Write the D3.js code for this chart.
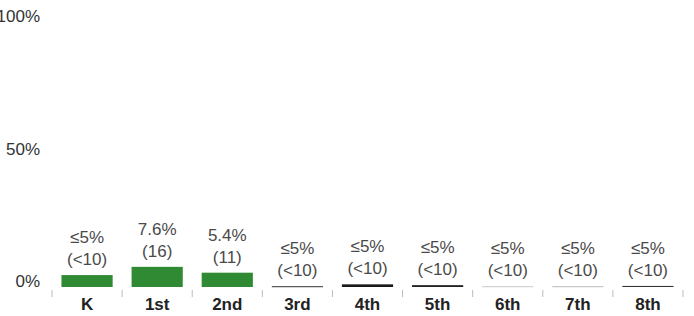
<!DOCTYPE html>
<html><head><meta charset="utf-8">
<script src="https://cdn.jsdelivr.net/npm/d3@7"></script>
<style>body{margin:0;background:#fff}svg{display:block}</style>
</head><body>
<svg id="c" width="694" height="316"></svg>
<script>
const categories = ["K","1st","2nd","3rd","4th","5th","6th","7th","8th"];
const values = [4.5, 7.6, 5.4, 0.3, 1.0, 0.7, 0.3, 0.3, 0.4];
const pctLabels = ["≤5%","7.6%","5.4%","≤5%","≤5%","≤5%","≤5%","≤5%","≤5%"];
const countLabels = ["(<10)","(16)","(11)","(<10)","(<10)","(<10)","(<10)","(<10)","(<10)"];
const barColors = ["#2f8a33","#2f8a33","#2f8a33","#333","#1a1a1a","#222","#c8c8c8","#bbb","#333"];
const yTicks = [0, 50, 100];

const svg = d3.select("#c");
const font = "'Liberation Sans', Arial, sans-serif";
const x = d3.scaleBand().domain(categories).range([52, 683]).paddingInner(0.27).paddingOuter(0.135);
const y = d3.scaleLinear().domain([0, 100]).range([287, 22]);

// y labels
svg.selectAll("text.y").data(yTicks).join("text")
  .attr("x", 40).attr("y", d => y(d))
  .attr("text-anchor", "end").attr("font-family", font).attr("font-size", 17)
  .attr("fill", "#333").text(d => d + "%");

// category boundary ticks
const bounds = categories.map(c => x(c) - x.step()*x.paddingInner()/2).concat([683]);
svg.selectAll("line.t").data(bounds).join("line")
  .attr("x1", d => d).attr("x2", d => d).attr("y1", 290).attr("y2", 297)
  .attr("stroke", "#bbb").attr("stroke-width", 1);

// bars
svg.selectAll("rect.b").data(categories).join("rect")
  .attr("x", d => x(d)).attr("width", x.bandwidth())
  .attr("y", (d,i) => y(values[i])).attr("height", (d,i) => Math.max(1, y(0) - y(values[i])))
  .attr("fill", (d,i) => barColors[i]);

// value labels
const g = svg.selectAll("g.l").data(categories).join("g")
  .attr("transform", (d,i) => `translate(${x(d) + x.bandwidth()/2},${y(values[i])})`);
g.append("text").attr("y", -32).attr("text-anchor", "middle").attr("font-family", font)
  .attr("font-size", 17).attr("fill", "#4a4a4a").text((d,i) => pctLabels[i]);
g.append("text").attr("y", -10).attr("text-anchor", "middle").attr("font-family", font)
  .attr("font-size", 17).attr("fill", "#4a4a4a").text((d,i) => countLabels[i]);

// category labels
svg.selectAll("text.c").data(categories).join("text")
  .attr("x", d => x(d) + x.bandwidth()/2).attr("y", 310)
  .attr("text-anchor", "middle").attr("font-family", font).attr("font-size", 17)
  .attr("font-weight", "bold").attr("fill", "#222").text(d => d);
</script>
</body></html>
